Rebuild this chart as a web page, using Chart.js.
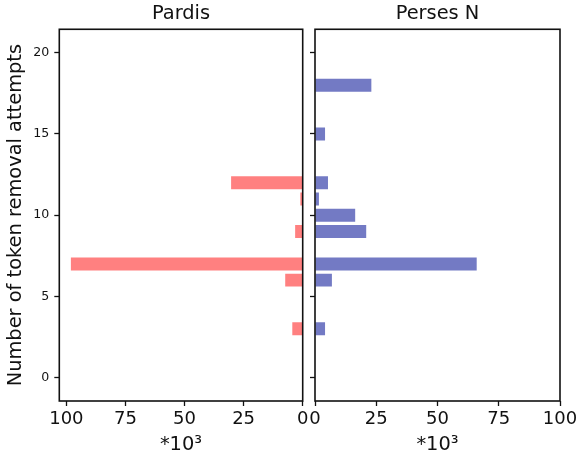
<!DOCTYPE html>
<html>
<head>
<meta charset="utf-8">
<script src="https://cdn.jsdelivr.net/npm/chart.js@4.4.1/dist/chart.umd.min.js"></script>
<style>
  html, body { margin: 0; padding: 0; background: #fff; }
  #wrap { position: relative; width: 578px; height: 455px; overflow: hidden; }
  #c1 { position: absolute; left: 0; top: 0; }
  #c2 { position: absolute; left: 309px; top: 0; }
</style>
</head>
<body>
<div id="wrap">
  <canvas id="c1" width="309" height="455"></canvas>
  <canvas id="c2" width="269" height="455"></canvas>
</div>
<script>
const categories = [0,1,2,3,4,5,6,7,8,9,10,11,12,13,14,15,16,17,18,19,20];
const pardisValues = [0,0,0,4.4,0,0,7.4,98.1,0,3.2,0,1.0,30.3,0,0,0,0,0,0,0,0];
const persesValues = [0,0,0,4.1,0,0,6.9,66.0,0,20.9,16.4,1.6,5.3,0,0,4.1,0,0,23.0,0,0];
const xTicks = [0,25,50,75,100];
const yTicks = [0,5,10,15,20];
const panelTitles = ['Pardis', 'Perses N'];
const yLabel = 'Number of token removal attempts';
const xLabel = '*10\u00B3';

const FONT = 'DejaVu Sans';
const INK = '#111';

const framePlugin = {
  id: 'frame',
  afterDraw(chart) {
    const {ctx, chartArea: {left, top, right, bottom}} = chart;
    ctx.save();
    ctx.strokeStyle = INK;
    ctx.lineWidth = 1.6;
    ctx.strokeRect(left, top, right - left, bottom - top);
    ctx.restore();
  }
};

function makeChart(canvasId, title, values, color, opts) {
  const data = categories.map((c, i) => ({x: values[i], y: c}));
  return new Chart(document.getElementById(canvasId), {
    type: 'bar',
    data: {
      datasets: [{
        data: data,
        backgroundColor: color,
        borderWidth: 0,
        barPercentage: 0.8,
        categoryPercentage: 1.0
      }]
    },
    options: {
      indexAxis: 'y',
      responsive: false,
      animation: false,
      layout: { padding: { left: 0, right: opts.padRight, top: 0, bottom: 0 } },
      plugins: {
        legend: { display: false },
        tooltip: { enabled: false },
        title: {
          display: true,
          text: title,
          fullSize: false,
          color: INK,
          font: { family: FONT, size: 19.4, weight: 'normal', lineHeight: 1.2 },
          padding: { top: 2, bottom: 4 }
        }
      },
      scales: {
        x: {
          type: 'linear',
          min: 0,
          max: opts.xMax,
          reverse: opts.reverse,
          offset: false,
          afterBuildTicks: s => { s.ticks = xTicks.map(v => ({value: v})); },
          afterFit: s => { s.height = 54; s.paddingLeft = 0; s.paddingRight = 0; },
          grid: { display: true, offset: false, drawOnChartArea: false, drawTicks: true, tickLength: 5, tickWidth: 1.3, tickColor: INK },
          border: { display: false },
          ticks: { color: INK, font: { family: FONT, size: 18 }, padding: 3, maxRotation: 0, autoSkip: false, includeBounds: false },
          title: { display: true, text: xLabel, color: INK, font: { family: FONT, size: 19.4, lineHeight: 1.0 }, padding: { top: 0, bottom: 0 } }
        },
        y: {
          type: 'linear',
          min: -1.44,
          max: 21.44,
          offset: false,
          afterBuildTicks: s => { s.ticks = yTicks.map(v => ({value: v})); },
          afterFit: s => { s.width = opts.yWidth; s.paddingTop = 0; s.paddingBottom = 0; },
          grid: { display: true, offset: false, drawOnChartArea: false, drawTicks: true, tickLength: 5, tickWidth: 1.3, tickColor: INK },
          border: { display: false },
          ticks: { display: opts.yLabels, color: INK, font: { family: FONT, size: 12.6 }, padding: 5 },
          title: { display: opts.yLabels, text: yLabel, color: INK, font: { family: FONT, size: 19.4, lineHeight: 1.2 }, padding: { top: 4.2, bottom: 0 } }
        }
      }
    },
    plugins: [framePlugin]
  });
}

makeChart('c1', panelTitles[0], pardisValues, '#ff8080', { reverse: true, xMax: 103.0, padRight: 6.3, yWidth: 59.3, yLabels: true });
makeChart('c2', panelTitles[1], persesValues, '#737ac4', { reverse: false, xMax: 100, padRight: 18, yWidth: 6, yLabels: false });
</script>
</body>
</html>
